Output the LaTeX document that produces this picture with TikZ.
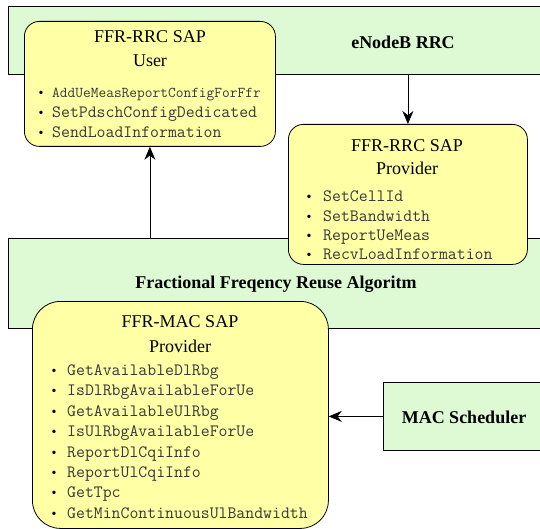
\documentclass[tikz,border=0pt]{standalone}
\usepackage{fontspec}
\setmainfont{Liberation Serif}
\usetikzlibrary{arrows.meta}

\definecolor{sapyellow}{RGB}{255,255,166}
\definecolor{blockgreen}{RGB}{222,250,212}
\definecolor{funcgray}{RGB}{55,55,55}

\begin{document}
\begin{tikzpicture}[x=1pt, y=-1pt,
	block/.style={draw=black, fill=blockgreen, line width=0.8pt, inner sep=0pt, anchor=north west},
	sap/.style={draw=black, fill=sapyellow, line width=0.8pt, rounded corners=15pt, inner sep=0pt, anchor=north west},
	saptitle/.style={font=\fontsize{18}{20}\selectfont, inner sep=0pt},
	blocktext/.style={font=\fontsize{18}{20}\selectfont\bfseries, inner sep=0pt},
	func/.style={anchor=base west, text=funcgray, font=\fontsize{17.3}{19}\ttfamily, inner sep=0pt},
	bullet/.style={anchor=base, font=\fontsize{14}{14}\selectfont, inner sep=0pt},
	link/.style={-{Stealth[length=13pt, width=11pt]}, line width=0.8pt}]
	
	% Рамка рисунка
	\useasboundingbox (0,0) rectangle (540,529);
	\clip (0,0) rectangle (540,529);
	
	% Блоки eNodeB RRC и SAP пользователя
	\node[block, minimum width=560pt, minimum height=68pt] (rrc) at (8,6) {};
	\node[sap, minimum width=251pt, minimum height=125pt] (user) at (24,21) {};
	
	% Блок алгоритма и SAP провайдера RRC
	\node[block, minimum width=560pt, minimum height=90pt] (ffr) at (8,238) {};
	\node[sap, minimum width=239pt, minimum height=140pt] (rrcprov) at (288,124) {};
	
	% SAP провайдера MAC и планировщик
	\node[sap, rounded corners=28pt, minimum width=296pt, minimum height=227pt] (macsap) at (32,301) {};
	\node[block, minimum width=200pt, minimum height=68pt] (sched) at (383,382) {};
	
	% Подписи блоков
	\node[blocktext] (rrclabel) at (403,42) {eNodeB RRC};
	\node[blocktext] (ffrlabel) at (276,284) {Fractional Freqency Reuse Algoritm};
	\node[blocktext] (schedlabel) at (464,417) {MAC Scheduler};
	
	% Заголовки SAP
	\node[saptitle] (usertitle) at (150,37) {FFR-RRC SAP};
	\node[saptitle] (userrole) at (150,61) {User};
	\node[saptitle] (provtitle) at (407,146) {FFR-RRC SAP};
	\node[saptitle] (provrole) at (407,168) {Provider};
	\node[saptitle] (mactitle) at (180,322) {FFR-MAC SAP};
	\node[saptitle] (macrole) at (180,346) {Provider};
	
	% Функции SAP пользователя
	\node[bullet] at (41,97.5) {•};
	\node[func, font=\fontsize{15}{17}\ttfamily] (userfunc1) at (52,97.5) {AddUeMeasReportConfigForFfr};
	\foreach \fname [count=\i] in {SetPdschConfigDedicated, SendLoadInformation} {
		\node[bullet] at (41,97.5+20*\i) {•};
		\node[func] (userfunc\i) at (52,97.5+20*\i) {\fname};
	}
	
	% Функции SAP провайдера RRC
	\foreach \fname [count=\i from 0] in {SetCellId, SetBandwidth, ReportUeMeas, RecvLoadInformation} {
		\node[bullet] at (309,202+19.3*\i) {•};
		\node[func] (provfunc\i) at (323,202+19.3*\i) {\fname};
	}
	
	% Функции SAP провайдера MAC
	\foreach \fname [count=\i from 0] in {GetAvailableDlRbg, IsDlRbgAvailableForUe, GetAvailableUlRbg, IsUlRbgAvailableForUe, ReportDlCqiInfo, ReportUlCqiInfo, GetTpc, GetMinContinuousUlBandwidth} {
		\node[bullet] at (54,375.5+20.4*\i) {•};
		\node[func] (macfunc\i) at (67,375.5+20.4*\i) {\fname};
	}
	
	% Связи
	\draw[link] (rrcprov.north |- rrc.south) -- (rrcprov.north);
	\draw[link] (user.south |- ffr.north) -- (user.south);
	\draw[link] (sched.west) -- (macsap.east |- sched.west);
\end{tikzpicture}
\end{document}
